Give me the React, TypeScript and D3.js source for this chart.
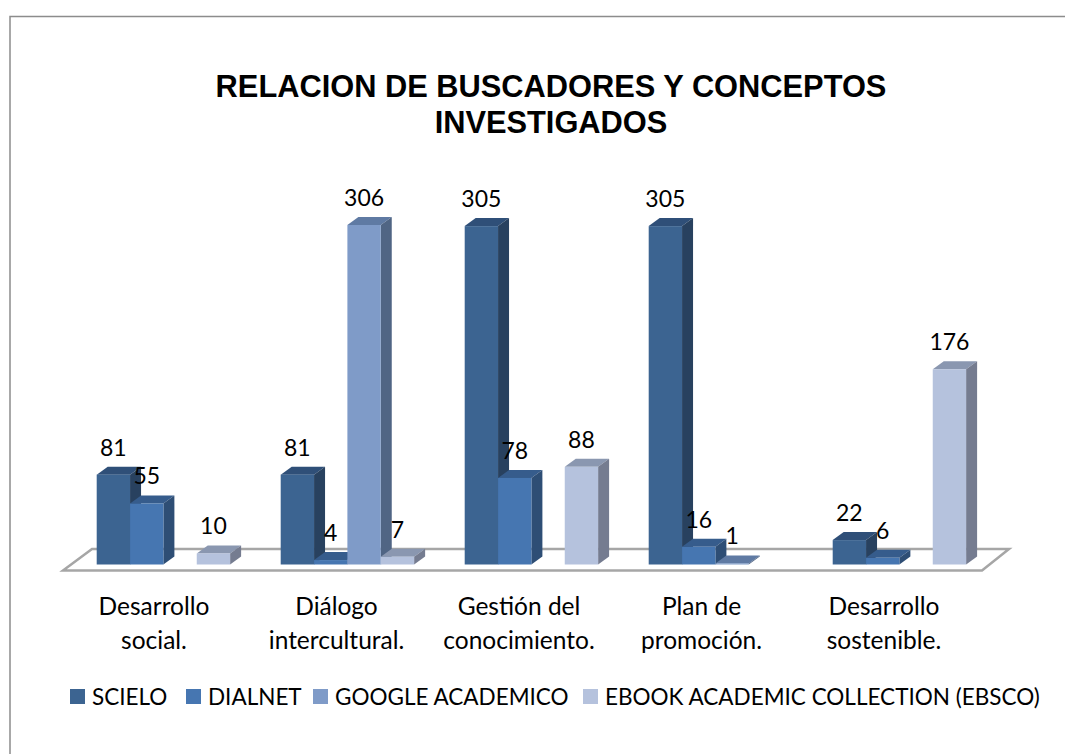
import React from "react";
import * as d3 from "d3";

const categories = [
  ["Desarrollo", "social."],
  ["Diálogo", "intercultural."],
  ["Gestión del", "conocimiento."],
  ["Plan de", "promoción."],
  ["Desarrollo", "sostenible."],
];
const seriesNames = ["SCIELO", "DIALNET", "GOOGLE ACADEMICO", "EBOOK ACADEMIC COLLECTION (EBSCO)"];
const scielo = [81, 81, 305, 305, 22];
const dialnet = [55, 4, 78, 16, 6];
const google = [null, 306, null, 1, null];
const ebsco = [10, 7, 88, null, 176];
const seriesValues = [scielo, dialnet, google, ebsco];
const frontColors = ["#3c6491", "#4676b1", "#7f9bc8", "#b5c2dd"];
const topColors = ["#2f4f78", "#365c8c", "#5f7aa3", "#8a97b0"];
const sideColors = ["#28415f", "#2e4e75", "#506584", "#757c90"];
const titleLines = ["RELACION DE BUSCADORES Y CONCEPTOS", "INVESTIGADOS"];

const FONT = "Lato, Carlito, 'Open Sans', sans-serif";
const DX = 11;
const DY = 8;

export default function App() {
  const x0 = d3.scaleBand<number>().domain(d3.range(5)).range([71.7, 991.7]).paddingInner(0);
  const groupWidth = 133.4;
  const x1 = d3.scaleBand<number>().domain(d3.range(4)).range([0, groupWidth]);
  const y = d3.scaleLinear().domain([0, 306]).range([564.5, 225]);
  const labelX = d3.scalePoint<number>().domain(d3.range(5)).range([154, 884]);
  const groupX = (i: number) => (x0(i) as number) + 25;
  const legendXs = [70, 186, 313, 583];

  return (
    <svg
      width={1065}
      height={754}
      viewBox="0 0 1065 754"
      style={{ position: "absolute", left: 0, top: 0, display: "block", background: "#fff" }}
    >
      <path d="M10,754V16.5H1065" fill="none" stroke="#8c8c8c" strokeWidth={1.5} />
      <g fontFamily="'Liberation Sans', Arial, sans-serif" fontWeight="bold" fontSize={30.8} textAnchor="middle" fill="#000">
        {titleLines.map((t, i) => (
          <text key={t} x={551} y={97 + i * 36}>{t}</text>
        ))}
      </g>
      <path d="M63,570.5H982L1009,549H92Z" fill="#fff" stroke="#a6a6a6" strokeWidth={2.5} />
      {categories.map((_, c) =>
        seriesValues.map((vals, s) => {
          const v = vals[c];
          if (v === null) return null;
          const x = groupX(c) + (x1(s) as number);
          const w = x1.bandwidth();
          const top = y(v);
          const base = y(0);
          return (
            <g key={`${c}-${s}`}>
              <path d={`M${x},${top}l${DX},${-DY}h${w}l${-DX},${DY}Z`} fill={topColors[s]} />
              <path d={`M${x + w},${top}l${DX},${-DY}V${base - DY}l${-DX},${DY}Z`} fill={sideColors[s]} />
              <rect x={x} y={top} width={w} height={base - top} fill={frontColors[s]} />
            </g>
          );
        })
      )}
      <g fontFamily={FONT} fontSize={23} textAnchor="middle" fill="#000">
        {categories.map((_, c) =>
          seriesValues.map((vals, s) => {
            const v = vals[c];
            if (v === null) return null;
            return (
              <text key={`${c}-${s}`} x={groupX(c) + (x1(s) as number) + x1.bandwidth() / 2} y={y(v) - 19}>
                {v}
              </text>
            );
          })
        )}
      </g>
      <g fontFamily={FONT} fontSize={24.5} textAnchor="middle" fill="#000">
        {categories.map((lines, c) =>
          lines.map((l, i) => (
            <text key={l + c} x={labelX(c)} y={615 + i * 33.5}>
              {l}
            </text>
          ))
        )}
      </g>
      <g fontFamily={FONT} fontSize={22.5} fill="#000">
        {seriesNames.map((n, s) => (
          <g key={n}>
            <rect x={legendXs[s]} y={689} width={15} height={15} fill={frontColors[s]} />
            <text x={legendXs[s] + 22} y={705}>{n}</text>
          </g>
        ))}
      </g>
    </svg>
  );
}
